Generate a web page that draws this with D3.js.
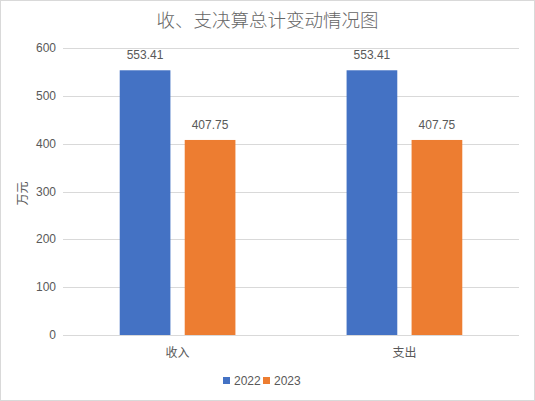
<!DOCTYPE html>
<html>
<head>
<meta charset="utf-8">
<script src="https://cdn.jsdelivr.net/npm/d3@7"></script>
<style>
    body { margin: 0; background: #fff; }
    text { font-family: "Liberation Sans", "Noto Sans CJK SC", sans-serif; }
</style>
</head>
<body>
<div id="chart"></div>
<script>
    var categories = ["收入", "支出"];
    var seriesNames = ["2022", "2023"];
    var values2022 = [553.41, 553.41];
    var values2023 = [407.75, 407.75];
    var yTicks = [0, 100, 200, 300, 400, 500, 600];

    var colors = {"2022": "#4472C4", "2023": "#ED7D31"};
    var width = 535, height = 401;
    var margin = {left: 63, right: 16, top: 48, bottom: 66};

    var svg = d3.select("#chart")
        .append("svg")
        .attr("width", width)
        .attr("height", height);

    // chart border
    svg.append("rect")
        .attr("x", 0.5).attr("y", 0.5)
        .attr("width", width - 1).attr("height", height - 1)
        .attr("fill", "#fff")
        .attr("stroke", "#d9d9d9");

    var x0 = d3.scaleBand()
        .domain(categories)
        .range([margin.left, width - margin.right])
        .paddingInner(0.49)
        .paddingOuter(0.25);

    var x1 = d3.scaleBand()
        .domain(seriesNames)
        .range([0, x0.bandwidth()])
        .paddingInner(0.22);

    var y = d3.scaleLinear()
        .domain([0, 600])
        .range([height - margin.bottom, margin.top]);

    // gridlines
    svg.append("g")
        .selectAll("line")
        .data(yTicks)
        .enter()
        .append("line")
        .attr("x1", margin.left)
        .attr("x2", width - margin.right)
        .attr("y1", function (d) { return Math.round(y(d)) + 0.5; })
        .attr("y2", function (d) { return Math.round(y(d)) + 0.5; })
        .attr("stroke", "#d9d9d9")
        .attr("stroke-width", 1);

    // y tick labels
    svg.append("g")
        .selectAll("text")
        .data(yTicks)
        .enter()
        .append("text")
        .attr("x", margin.left - 7)
        .attr("y", function (d) { return y(d) + 4; })
        .attr("text-anchor", "end")
        .attr("font-size", "12px")
        .attr("fill", "#595959")
        .text(function (d) { return d; });

    // y axis title
    svg.append("text")
        .attr("transform", "translate(27," + (y(300) + 2) + ") rotate(-90)")
        .attr("text-anchor", "middle")
        .attr("font-size", "12px")
        .attr("font-family", "Noto Sans CJK SC")
        .attr("fill", "#595959")
        .text("万元");

    var rows = categories.map(function (c, i) {
        return {cat: c, vals: [
            {name: "2022", value: values2022[i]},
            {name: "2023", value: values2023[i]}
        ]};
    });

    var groups = svg.append("g")
        .selectAll("g")
        .data(rows)
        .enter()
        .append("g")
        .attr("transform", function (d) { return "translate(" + x0(d.cat) + ",0)"; });

    groups.selectAll("rect")
        .data(function (d) { return d.vals; })
        .enter()
        .append("rect")
        .attr("x", function (d) { return x1(d.name); })
        .attr("width", x1.bandwidth())
        .attr("y", function (d) { return y(d.value); })
        .attr("height", function (d) { return y(0) - y(d.value); })
        .attr("fill", function (d) { return colors[d.name]; });

    groups.selectAll("text.valueLabel")
        .data(function (d) { return d.vals; })
        .enter()
        .append("text")
        .attr("class", "valueLabel")
        .attr("x", function (d) { return x1(d.name) + x1.bandwidth() / 2; })
        .attr("y", function (d) { return y(d.value) - 11; })
        .attr("text-anchor", "middle")
        .attr("font-size", "12px")
        .attr("fill", "#595959")
        .text(function (d) { return d.value.toFixed(2); });

    // category labels
    svg.append("g")
        .selectAll("text")
        .data(categories)
        .enter()
        .append("text")
        .attr("x", function (d) { return x0(d) + x0.bandwidth() / 2; })
        .attr("y", y(0) + 22)
        .attr("text-anchor", "middle")
        .attr("font-size", "12px")
        .attr("font-family", "Noto Sans CJK SC")
        .attr("fill", "#595959")
        .text(function (d) { return d; });

    // title
    svg.append("text")
        .attr("x", width / 2)
        .attr("y", 27)
        .attr("text-anchor", "middle")
        .attr("font-size", "18.5px")
        .attr("font-family", "Noto Sans CJK SC")
        .attr("font-weight", 300)
        .attr("fill", "#666666")
        .text("收、支决算总计变动情况图");

    // legend
    var legendX = [223, 263];
    var legend = svg.append("g")
        .selectAll("g")
        .data(seriesNames)
        .enter()
        .append("g")
        .attr("transform", function (d, i) { return "translate(" + legendX[i] + ",377)"; });

    legend.append("rect")
        .attr("width", 7)
        .attr("height", 7)
        .attr("fill", function (d) { return colors[d]; });

    legend.append("text")
        .attr("x", 11)
        .attr("y", 8)
        .attr("font-size", "12px")
        .attr("fill", "#595959")
        .text(function (d) { return d; });
</script>
</body>
</html>
